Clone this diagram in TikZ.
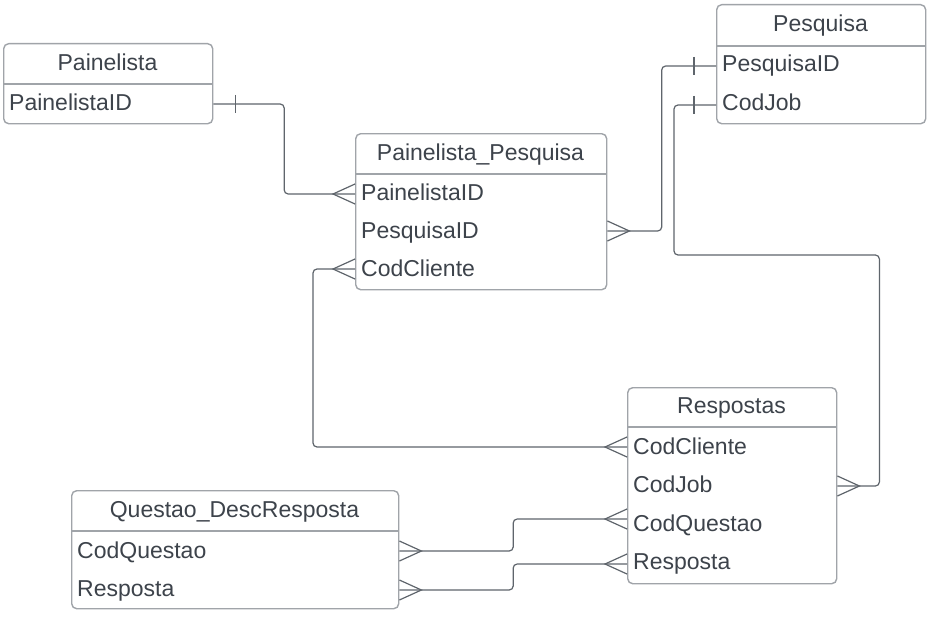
\documentclass[tikz,border=0pt]{standalone}
\usepackage{fontspec}
\setmainfont{Liberation Sans}
\usetikzlibrary{calc}
\definecolor{txt}{HTML}{3D434B}
\definecolor{bord}{HTML}{A0A4A9}
\definecolor{lnk}{HTML}{5F656C}
\tikzset{
  ent/.style={draw=bord, line width=1.4pt, rounded corners=5pt, inner sep=0pt, anchor=north west},
  divl/.style={draw=bord, line width=1.4pt},
  ttl/.style={text=txt, font=\fontsize{23}{27}\selectfont, inner sep=0pt, text height=16.5pt, text depth=0pt},
  fld/.style={ttl, anchor=west},
  conn/.style={draw=lnk, line width=1.2pt, rounded corners=4pt},
  endmark/.style={draw=lnk, line width=1.2pt}
}
\newcommand\crowfoot[2]{\draw[endmark] ($(#1)+(0,-10)$) -- ($(#1)+(#2*22,0)$) -- ($(#1)+(0,10)$);}
\newcommand\onebar[2]{\draw[endmark] ($(#1)+(#2*22,-9)$) -- ($(#1)+(#2*22,9)$);}
\begin{document}
\begin{tikzpicture}[x=1pt,y=-1pt]
\fill[white] (0,0) rectangle (935,618);
\useasboundingbox (0,0) rectangle (935,618);

% Painelista
\node[ent, minimum width=209pt, minimum height=80pt] (pl) at (3,43) {};
\node[ttl] (pl-t) at (107.5,62) {Painelista};
\draw[divl] (3,84) -- (212,84);
\node[fld] (pl-f1) at (9,102) {PainelistaID};

% Painelista_Pesquisa
\node[ent, minimum width=251pt, minimum height=156pt] (pp) at (355,133) {};
\node[ttl] (pp-t) at (480.5,152) {Painelista\_Pesquisa};
\draw[divl] (355,174) -- (606,174);
\node[fld] (pp-f1) at (361,192) {PainelistaID};
\node[fld] (pp-f2) at (361,230) {PesquisaID};
\node[fld] (pp-f3) at (361,268) {CodCliente};

% Pesquisa
\node[ent, minimum width=209pt, minimum height=119pt] (pq) at (716,4) {};
\node[ttl] (pq-t) at (820.5,23) {Pesquisa};
\draw[divl] (716,46) -- (925,46);
\node[fld] (pq-f1) at (722,63) {PesquisaID};
\node[fld] (pq-f2) at (722,102) {CodJob};

% Respostas
\node[ent, minimum width=209pt, minimum height=196pt] (rs) at (627,387) {};
\node[ttl] (rs-t) at (731.5,405) {Respostas};
\draw[divl] (627,427) -- (836,427);
\node[fld] (rs-f1) at (633,446) {CodCliente};
\node[fld] (rs-f2) at (633,484) {CodJob};
\node[fld] (rs-f3) at (633,523) {CodQuestao};
\node[fld] (rs-f4) at (633,561) {Resposta};

% Questao_DescResposta
\node[ent, minimum width=327pt, minimum height=118pt] (qd) at (71,490) {};
\node[ttl] (qd-t) at (234.5,509) {Questao\_DescResposta};
\draw[divl] (71,531) -- (398,531);
\node[fld] (qd-f1) at (77,550) {CodQuestao};
\node[fld] (qd-f2) at (77,588) {Resposta};

% connector end points
\coordinate (a1) at ($(pl.east |- pl-f1)+(0,2)$);
\coordinate (a2) at ($(pp.west |- pp-f1)+(0,2)$);
\coordinate (b1) at ($(pq.west |- pq-f1)+(0,3)$);
\coordinate (b2) at ($(pp.east |- pp-f2)+(0,1)$);
\coordinate (c1) at ($(pq.west |- pq-f2)+(0,3)$);
\coordinate (c2) at ($(rs.east |- rs-f2)+(0,2)$);
\coordinate (d1) at ($(pp.west |- pp-f3)+(0,1)$);
\coordinate (d2) at ($(rs.west |- rs-f1)+(0,1)$);
\coordinate (e1) at ($(qd.east |- qd-f1)+(0,1)$);
\coordinate (e2) at ($(rs.west |- rs-f3)+(0,-4)$);
\coordinate (f1) at ($(qd.east |- qd-f2)+(0,2)$);
\coordinate (f2) at ($(rs.west |- rs-f4)+(0,3)$);

% connectors
\draw[conn] (a1) -| ($(a1)!.5!(a2)$) |- (a2);
\onebar{a1}{1}
\crowfoot{a2}{-1}

\draw[conn] (b1) -| ($(b1)!.5!(b2)$) |- (b2);
\onebar{b1}{-1}
\crowfoot{b2}{1}

\draw[conn] (c1) -| (674,255) -| ($(c2)+(42,0)$) -- (c2);
\onebar{c1}{-1}
\crowfoot{c2}{1}

\draw[conn] (d1) -- ++(-42,0) |- (d2);
\crowfoot{d1}{-1}
\crowfoot{d2}{-1}

\draw[conn] (e1) -| ($(e1)!.5!(e2)$) |- (e2);
\crowfoot{e1}{1}
\crowfoot{e2}{-1}

\draw[conn] (f1) -| ($(f1)!.5!(f2)$) |- (f2);
\crowfoot{f1}{1}
\crowfoot{f2}{-1}
\end{tikzpicture}
\end{document}
